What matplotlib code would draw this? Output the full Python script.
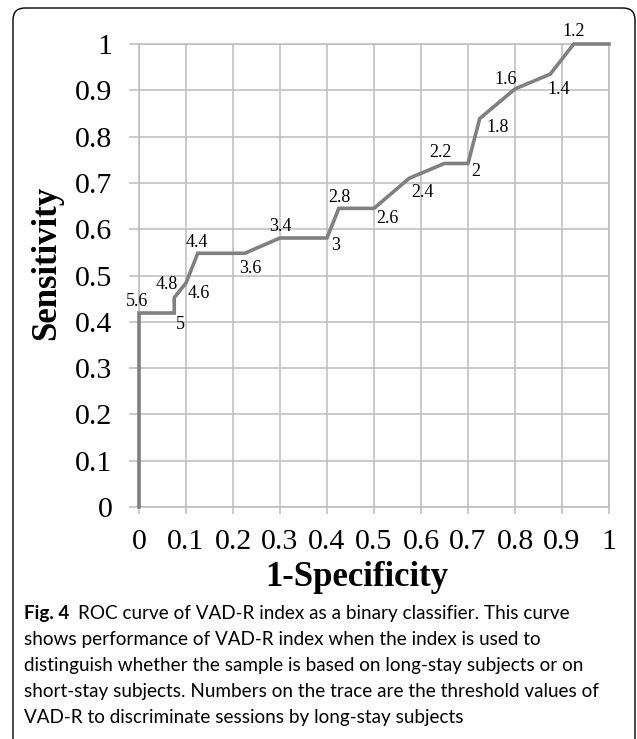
import matplotlib
matplotlib.use("Agg")
import matplotlib.pyplot as plt
from matplotlib.patches import FancyBboxPatch
from matplotlib.ticker import FuncFormatter

# courbe ROC de l'indice VAD-R (1-specificite, sensibilite, seuil)
fpr = [0, 0, 0.075, 0.075, 0.1, 0.125, 0.225, 0.3, 0.4, 0.425,
       0.5, 0.575, 0.65, 0.7, 0.725, 0.8, 0.875, 0.925, 1.0]
tpr = [0, 0.419, 0.419, 0.452, 0.484, 0.548, 0.548, 0.581, 0.581, 0.645,
       0.645, 0.710, 0.742, 0.742, 0.839, 0.903, 0.935, 1.0, 1.0]
seuils = ["", "5.6", "5", "4.8", "4.6", "4.4", "3.6", "3.4", "3", "2.8",
          "2.6", "2.4", "2.2", "2", "1.8", "1.6", "1.4", "1.2", ""]
graduations = [0, 0.1, 0.2, 0.3, 0.4, 0.5, 0.6, 0.7, 0.8, 0.9, 1.0]

# decalage des etiquettes en pixels (dx, dy vers le haut)
decalages = [(0, 0), (-2, 12), (6, -11), (-8, 13), (13, -11), (-1, 11),
             (6, -15), (0, 11), (9, -8), (1, 11), (13, -10), (13, -14),
             (-4, 11), (8, -8), (18, -9), (-9, 9), (8, -15), (0, 12), (0, 0)]

W, H = 637, 739
fig = plt.figure(figsize=(W / 100, H / 100), dpi=100)
ax = fig.add_axes([139 / W, 1 - 507 / H, 470 / W, 463 / H])

gris = "#bcbcbc"
serif = "Liberation Serif"

ax.set_xlim(0, 1)
ax.set_ylim(0, 1)
ax.set_xticks(graduations)
ax.set_yticks(graduations)
fmt = FuncFormatter(lambda v, p: "%g" % round(v, 1))
ax.xaxis.set_major_formatter(fmt)
ax.yaxis.set_major_formatter(fmt)
ax.grid(True, color=gris, linewidth=1.1)
for s in ax.spines.values():
    s.set_color(gris)
    s.set_linewidth(1.1)
ax.tick_params(axis="y", length=7, width=1.1, color=gris, pad=12, labelsize=21.5)
ax.tick_params(axis="x", length=5, width=1.1, color=gris, pad=11, labelsize=21.5)
for lab in ax.get_xticklabels() + ax.get_yticklabels():
    lab.set_fontfamily(serif)

ax.plot(fpr, tpr, color="#808080", linewidth=2.6, solid_joinstyle="miter",
        clip_on=False, zorder=3)

for x, y, t, (dx, dy) in zip(fpr, tpr, seuils, decalages):
    if t:
        ax.annotate(t, (x, y), xytext=(dx, dy), textcoords="offset pixels",
                    ha="center", va="center", fontsize=13, family=serif,
                    annotation_clip=False)

fig.text(47 / W, 1 - 263 / H, "Sensitivity", rotation=90, ha="center",
         va="center", fontsize=25, fontweight="bold", family=serif)
fig.text(357 / W, 1 - 578 / H, "1-Specificity", ha="center", va="center",
         fontsize=25, fontweight="bold", family=serif)

# legende de la figure
lignes = [
    "ROC curve of VAD-R index as a binary classifier. This curve",
    "shows performance of VAD-R index when the index is used to",
    "distinguish whether the sample is based on long-stay subjects or on",
    "short-stay subjects. Numbers on the trace are the threshold values of",
    "VAD-R to discriminate sessions by long-stay subjects",
]
x0 = 24
y0 = 614
taille = 13.6
t = fig.text(x0 / W, 1 - y0 / H, "Fig. 4", ha="left", va="center",
             fontsize=taille, fontweight="bold", family="Lato")
fig.canvas.draw()
bb = t.get_window_extent()
fig.text((bb.x1 + 9) / W, 1 - y0 / H, lignes[0], ha="left", va="center",
         fontsize=taille, family="Lato")
for i, l in enumerate(lignes[1:]):
    fig.text(x0 / W, 1 - (y0 + 26 * (i + 1)) / H, l, ha="left", va="center",
             fontsize=taille, family="Lato")

cadre = FancyBboxPatch((13, -40), 622, 731 + 40, boxstyle="round,pad=0,rounding_size=12",
                       transform=None, fill=False, edgecolor="black",
                       linewidth=1.0)
fig.patches.append(cadre)

fig.savefig("out.png", dpi=100)
